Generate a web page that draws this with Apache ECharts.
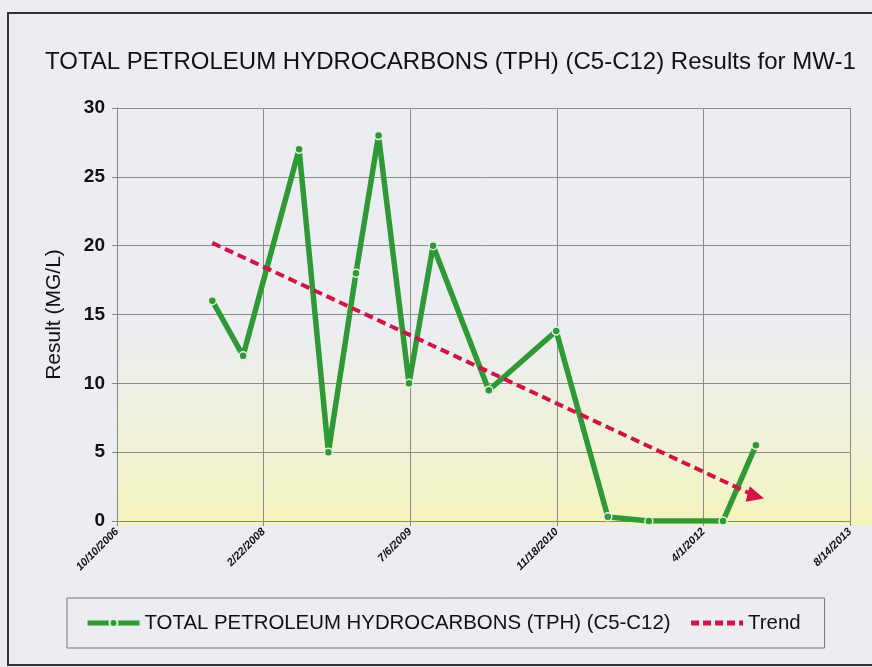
<!DOCTYPE html>
<html>
<head>
<meta charset="utf-8">
<script src="https://cdn.jsdelivr.net/npm/echarts@6/dist/echarts.min.js"></script>
<style>html,body{margin:0;padding:0;background:#ebedf0;}#c{width:872px;height:667px;}</style>
</head>
<body>
<div id="c"></div>
<script>
// ---- data ----
const sampleDates = ['2007-08-31','2007-12-14','2008-06-22','2008-09-30','2009-01-02','2009-03-20','2009-07-02','2009-09-22','2010-03-31','2010-11-16','2011-05-11','2011-09-28','2012-06-07','2012-09-27'];
const tphValues = [16, 12, 27, 5, 18, 28, 10, 20, 9.5, 13.8, 0.3, 0, 0, 5.5];
const trendDates = ['2007-08-31','2012-09-27'];
const trendValues = [20.2, 1.8];
const xTickLabels = ['10/10/2006','2/22/2008','7/6/2009','11/18/2010','4/1/2012','8/14/2013'];
const yTicks = [0, 5, 10, 15, 20, 25, 30];
const titleText = 'TOTAL PETROLEUM HYDROCARBONS (TPH) (C5-C12) Results for MW-1';
const seriesName = 'TOTAL PETROLEUM HYDROCARBONS (TPH) (C5-C12)';
const trendName = 'Trend';

// Excel-style serial day numbers (10/10/2006 = 39000)
function serial(s){const p=s.split('-').map(Number);return Date.UTC(p[0],p[1]-1,p[2])/86400000+25569;}
const X_MIN = 39000, X_STEP = 500;

const FONT = '"Liberation Sans", Arial, sans-serif';
const GREEN = '#2f9a35', RED = '#d11445';
const chart = echarts.init(document.getElementById('c'));
chart.setOption({
  backgroundColor: '#ebedf0',
  animation: false,
  graphic: [
    {type:'rect', z:-10, shape:{x:117,y:330,width:755,height:195},
     style:{fill:new echarts.graphic.LinearGradient(0,0,0,1,[{offset:0,color:'rgba(246,246,200,0)'},{offset:0.6,color:'rgba(246,246,195,0.55)'},{offset:1,color:'rgba(244,245,180,0.9)'}])}},
    {type:'rect', z:100, shape:{x:8,y:13,width:900,height:652}, style:{fill:null, stroke:'#333', lineWidth:2}}
  ],
  title: {
    text: titleText, left: 40, top: 45,
    textStyle: {fontFamily: FONT, fontSize: 24, fontWeight: 'normal', color: '#111'}
  },
  legend: {
    left: 67, top: 598,
    borderColor: '#777', borderWidth: 1,
    padding: [15, 24, 15, 18],
    itemWidth: 52, itemHeight: 10, itemGap: 18,
    textStyle: {fontFamily: FONT, fontSize: 20.4, color: '#111'},
    data: [
      {name: seriesName, lineStyle: {width: 5, color: GREEN}},
      {name: trendName, lineStyle: {width: 5, color: RED, type: [8, 4]}, itemStyle: {opacity: 0}}
    ]
  },
  grid: {left: 117, right: 22, top: 108, bottom: 146},
  xAxis: {
    type: 'value', min: X_MIN, max: X_MIN + X_STEP*(xTickLabels.length-1), interval: X_STEP,
    axisLine: {show: true, lineStyle: {color: '#888'}},
    axisTick: {show: true, length: 5, lineStyle: {color: '#888'}},
    splitLine: {show: true, lineStyle: {color: '#8c8c8c', width: 1}},
    axisLabel: {
      rotate: 45, margin: 9, fontSize: 11, fontWeight: 'bold', fontStyle: 'italic', color: '#111', fontFamily: FONT,
      formatter: v => xTickLabels[Math.round((v - X_MIN)/X_STEP)] || ''
    }
  },
  yAxis: {
    type: 'value', min: yTicks[0], max: yTicks[yTicks.length-1], interval: yTicks[1]-yTicks[0],
    name: 'Result (MG/L)', nameLocation: 'middle', nameGap: 52, nameRotate: 90,
    nameTextStyle: {fontFamily: FONT, fontSize: 21, color: '#111'},
    axisLine: {show: true, lineStyle: {color: '#888'}},
    axisTick: {show: true, length: 5, lineStyle: {color: '#888'}},
    splitLine: {show: true, lineStyle: {color: '#8c8c8c', width: 1}},
    axisLabel: {fontSize: 19, fontWeight: 'bold', color: '#111', margin: 12, fontFamily: FONT}
  },
  series: [
    {
      name: seriesName, type: 'line',
      data: sampleDates.map((d,i)=>[serial(d), tphValues[i]]),
      symbol: 'circle', symbolSize: 8, showAllSymbol: true,
      lineStyle: {color: GREEN, width: 5.5},
      itemStyle: {color: GREEN, borderColor: '#e6f0e0', borderWidth: 1.5}
    },
    {
      name: trendName, type: 'line',
      data: trendDates.map((d,i)=> i === trendDates.length-1
        ? {value:[serial(d), trendValues[i]], symbol:'triangle', symbolSize:[16,17], symbolRotate:-105}
        : {value:[serial(d), trendValues[i]], symbol:'none'}),
      symbol: 'none',
      lineStyle: {color: RED, width: 4, type: [9, 5]},
      itemStyle: {color: RED}
    }
  ]
});
</script>
</body>
</html>
